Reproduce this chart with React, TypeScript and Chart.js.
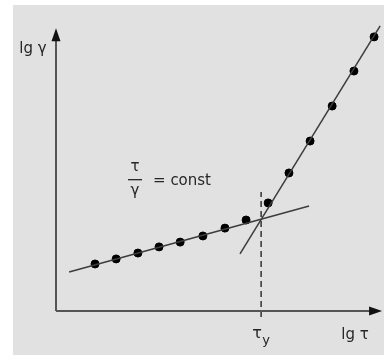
import React, { useEffect, useRef } from "react";
import { Chart, registerables } from "chart.js";

Chart.register(...registerables);

// Measured points below the yield stress (lg τ, lg γ)
const LOWER_TAU = [1.22, 1.88, 2.56, 3.22, 3.88, 4.59, 5.28, 5.94];
const LOWER_GAMMA = [1.68, 1.86, 2.07, 2.29, 2.46, 2.68, 2.96, 3.25];

// Measured points above the yield stress
const UPPER_TAU = [6.63, 7.28, 7.94, 8.63, 9.31, 9.94];
const UPPER_GAMMA = [3.86, 4.93, 6.07, 7.32, 8.57, 9.79];

// Straight-line fits through each regime
const LOW_FIT_TAU = [0.41, 7.91];
const LOW_FIT_GAMMA = [1.39, 3.75];
const HIGH_FIT_TAU = [5.75, 10.13];
const HIGH_FIT_GAMMA = [2.04, 10.18];

// Yield stress marker and its vertical extent
const TAU_Y = 6.41;
const TAU_Y_SPAN = [-0.21, 4.25];

// Axis arrow extents (in axis units)
const AXIS_X_END = 10.19;
const AXIS_Y_END = 10.1;

const FONT = '"DejaVu Sans", Verdana, sans-serif';
const TEXT = "#262626";
const LINE = "#3c3c3c";

const pts = (xs: number[], ys: number[]) => xs.map((x, i) => ({ x, y: ys[i] }));

const decorations = {
  id: "decorations",
  beforeDraw(chart: any) {
    const ctx = chart.ctx;
    ctx.save();
    ctx.fillStyle = "#ffffff";
    ctx.fillRect(0, 0, chart.width, chart.height);
    ctx.fillStyle = "#e1e1e1";
    ctx.fillRect(13, 5, chart.width - 13, chart.height - 9);
    ctx.restore();
  },
  afterDraw(chart: any) {
    const ctx = chart.ctx;
    const xs = chart.scales.x;
    const ys = chart.scales.y;
    const ox = xs.getPixelForValue(0);
    const oy = ys.getPixelForValue(0);
    const xEnd = xs.getPixelForValue(AXIS_X_END);
    const yEnd = ys.getPixelForValue(AXIS_Y_END);
    ctx.save();
    // axes
    ctx.strokeStyle = "#555";
    ctx.lineWidth = 2;
    ctx.beginPath();
    ctx.moveTo(ox, oy);
    ctx.lineTo(ox, yEnd + 10);
    ctx.moveTo(ox, oy);
    ctx.lineTo(xEnd - 10, oy);
    ctx.stroke();
    // arrowheads
    ctx.fillStyle = "#111";
    ctx.beginPath();
    ctx.moveTo(ox, yEnd);
    ctx.lineTo(ox - 4.5, yEnd + 13);
    ctx.lineTo(ox + 4.5, yEnd + 13);
    ctx.closePath();
    ctx.fill();
    ctx.beginPath();
    ctx.moveTo(xEnd, oy);
    ctx.lineTo(xEnd - 13, oy - 4.5);
    ctx.lineTo(xEnd - 13, oy + 4.5);
    ctx.closePath();
    ctx.fill();

    // axis titles
    ctx.fillStyle = TEXT;
    ctx.textBaseline = "alphabetic";
    ctx.font = `15px ${FONT}`;
    ctx.textAlign = "center";
    ctx.fillText("lg γ", ox - 23, yEnd + 25);
    ctx.fillText("lg τ", xEnd - 27, oy + 28);

    // τ_y label under the dashed marker
    const ty = xs.getPixelForValue(TAU_Y);
    ctx.textAlign = "center";
    ctx.font = `16px ${FONT}`;
    ctx.fillText("τ", ty - 4, oy + 27);
    ctx.font = `13px ${FONT}`;
    ctx.fillText("y", ty + 5, oy + 33);

    // τ/γ = const annotation
    const fx = xs.getPixelForValue(2.47);
    const fy = ys.getPixelForValue(4.69);
    ctx.font = `15px ${FONT}`;
    ctx.textAlign = "center";
    ctx.fillText("τ", fx, fy - 9);
    ctx.fillText("γ", fx, fy + 15);
    ctx.strokeStyle = TEXT;
    ctx.lineWidth = 1.3;
    ctx.beginPath();
    ctx.moveTo(fx - 7, fy);
    ctx.lineTo(fx + 7, fy);
    ctx.stroke();
    ctx.textAlign = "left";
    ctx.fillText("= const", fx + 18, fy + 5);
    ctx.restore();
  },
};

export default function App() {
  const ref = useRef<HTMLCanvasElement>(null);
  useEffect(() => {
    if (!ref.current) return;
    const chart = new Chart(ref.current, {
      type: "scatter",
      data: {
        datasets: [
          {
            type: "line",
            data: pts(LOW_FIT_TAU, LOW_FIT_GAMMA),
            borderColor: LINE,
            borderWidth: 1.5,
            pointRadius: 0,
          },
          {
            type: "line",
            data: pts(HIGH_FIT_TAU, HIGH_FIT_GAMMA),
            borderColor: LINE,
            borderWidth: 1.5,
            pointRadius: 0,
          },
          {
            type: "line",
            data: pts([TAU_Y, TAU_Y], TAU_Y_SPAN),
            borderColor: "#333",
            borderWidth: 1.5,
            borderDash: [6, 4],
            pointRadius: 0,
          },
          {
            data: pts(LOWER_TAU, LOWER_GAMMA),
            backgroundColor: "#000",
            borderColor: "#000",
            pointRadius: 4,
            showLine: false,
          },
          {
            data: pts(UPPER_TAU, UPPER_GAMMA),
            backgroundColor: "#000",
            borderColor: "#000",
            pointRadius: 4,
            showLine: false,
          },
        ],
      },
      options: {
        animation: false,
        responsive: false,
        devicePixelRatio: 1,
        clip: false,
        layout: { padding: { left: 56, right: 8, top: 31, bottom: 48 } },
        plugins: { legend: { display: false }, tooltip: { enabled: false } },
        scales: {
          x: { type: "linear", min: 0, max: 10, display: false },
          y: { type: "linear", min: 0, max: 10, display: false },
        },
      },
      plugins: [decorations],
    });
    return () => chart.destroy();
  }, []);
  return (
    <div style={{ position: "absolute", left: 0, top: 0, width: 384, height: 359 }}>
      <canvas ref={ref} width={384} height={359} />
    </div>
  );
}
